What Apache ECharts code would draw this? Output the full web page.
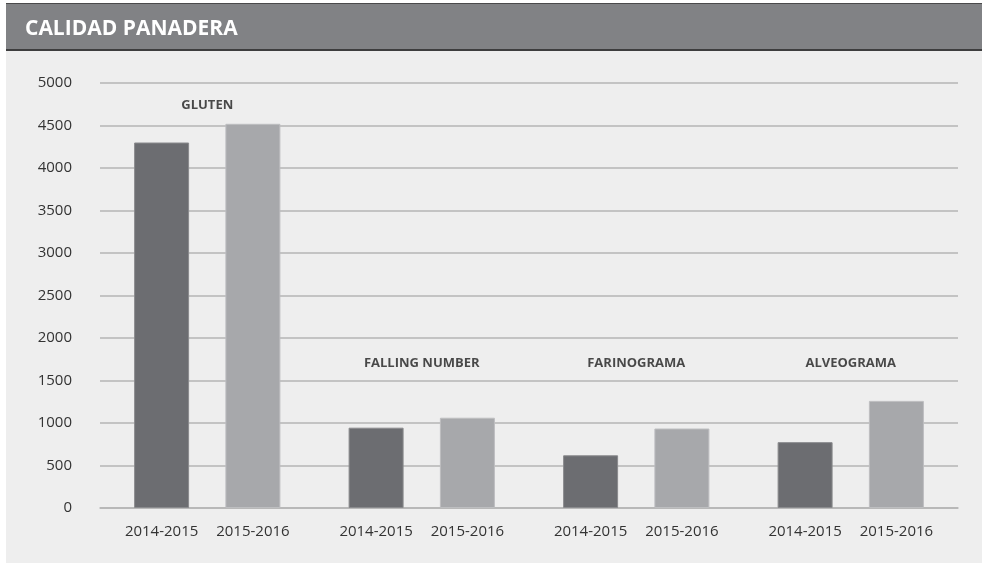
<!DOCTYPE html>
<html>
<head>
<meta charset="utf-8">
<script src="https://cdn.jsdelivr.net/npm/echarts@6/dist/echarts.min.js"></script>
<style>
  html, body { margin: 0; padding: 0; background: #ffffff; }
  #main { width: 987px; height: 564px; }
</style>
</head>
<body>
<div id="main"></div>
<script>
// datos
var groups = ['GLUTEN', 'FALLING NUMBER', 'FARINOGRAMA', 'ALVEOGRAMA']
var campaigns = ['2014-2015', '2015-2016']
var values2014 = [4300, 945, 620, 775]
var values2015 = [4520, 1062, 935, 1260]
var groupLabelLevel = [4740, 1700, 1700, 1700]
var yTicks = { min: 0, max: 5000, step: 500 }

var chart = echarts.init(document.getElementById('main'))

var fontFamily = '"Open Sans", "Noto Sans", sans-serif'
var gridColor = '#b5b5b5'

function barSeries(name, data, color, border) {
  return {
    name: name,
    type: 'bar',
    data: data,
    barWidth: 55,
    barGap: '66%',
    itemStyle: { color: color, borderColor: border, borderWidth: 1 },
    label: {
      show: true,
      position: 'bottom',
      distance: 16,
      formatter: '{a}',
      color: '#333333',
      fontSize: 15,
      fontFamily: fontFamily
    },
    emphasis: { disabled: true }
  }
}

var option = {
  animation: false,
  backgroundColor: '#ffffff',
  graphic: [
    // panel de fondo
    { type: 'rect', shape: { x: 6, y: 3, width: 976, height: 560 }, style: { fill: '#eeeeee' }, z: -10 },
    // cabecera
    { type: 'rect', shape: { x: 6, y: 3, width: 976, height: 48 }, style: { fill: '#818285' }, z: -9 },
    { type: 'rect', shape: { x: 6, y: 3, width: 976, height: 1 }, style: { fill: '#4a4a4b' }, z: -8 },
    { type: 'rect', shape: { x: 6, y: 49, width: 976, height: 2 }, style: { fill: '#3d3d3e' }, z: -8 }
  ],
  title: {
    text: 'CALIDAD PANADERA',
    left: 25,
    top: 19,
    padding: 0,
    textStyle: {
      color: '#ffffff',
      fontSize: 21,
      fontWeight: 'bold',
      fontFamily: fontFamily
    }
  },
  grid: { left: 100, right: 29, top: 83, bottom: 56 },
  xAxis: {
    type: 'category',
    data: groups,
    axisLine: { show: true, lineStyle: { color: gridColor, width: 1.5 } },
    axisTick: { show: false },
    axisLabel: { show: false }
  },
  yAxis: {
    type: 'value',
    min: yTicks.min,
    max: yTicks.max,
    interval: yTicks.step,
    axisLine: { show: false },
    axisTick: { show: false },
    axisLabel: {
      color: '#333333',
      fontSize: 15,
      margin: 28,
      fontFamily: fontFamily,
      formatter: function (v) { return String(v) }
    },
    splitLine: { lineStyle: { color: gridColor, width: 1.5 } }
  },
  series: [
    barSeries(campaigns[0], values2014, '#6c6d71', '#8a8b8e'),
    barSeries(campaigns[1], values2015, '#a7a8ab', '#bdbec0'),
    {
      name: 'grupos',
      type: 'scatter',
      data: groupLabelLevel,
      symbolSize: 1,
      itemStyle: { color: 'rgba(0,0,0,0)' },
      label: {
        show: true,
        position: 'inside',
        formatter: '{b}',
        color: '#1e1e1e',
        fontSize: 13,
        fontWeight: 'bold',
        fontFamily: fontFamily
      },
      emphasis: { disabled: true },
      silent: true
    }
  ]
}

chart.setOption(option)
</script>
</body>
</html>
